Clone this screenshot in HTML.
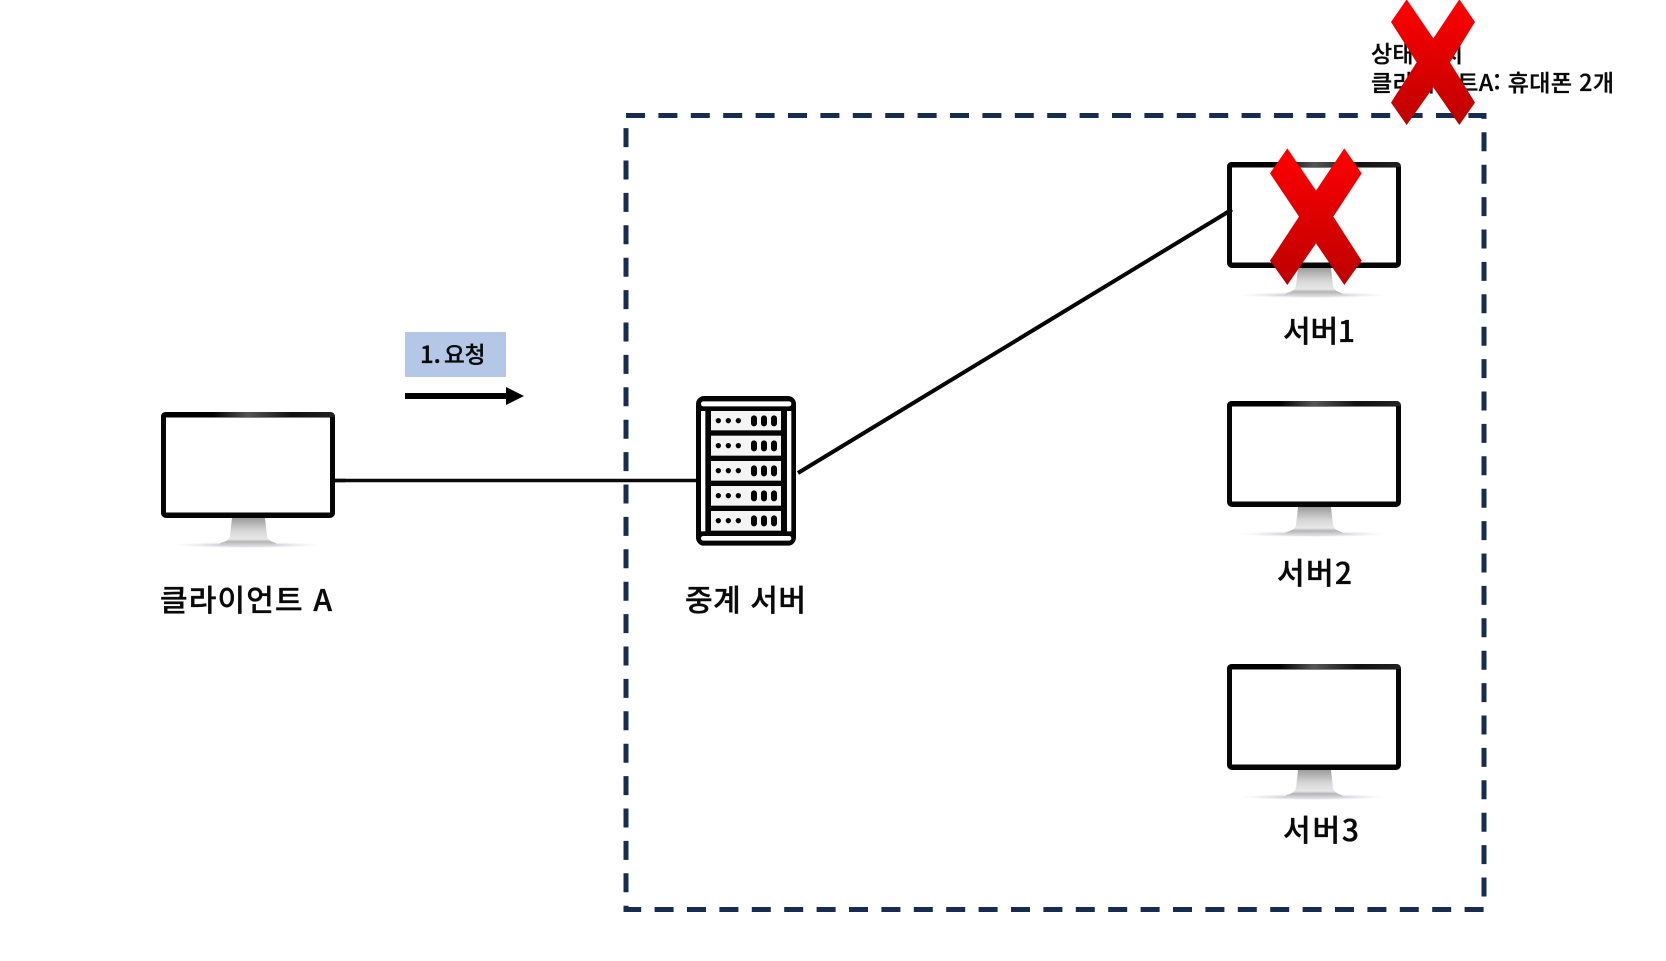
<!DOCTYPE html>
<html lang="ko"><head><meta charset="utf-8"><title>상태 유지 서버</title>
<style>
html,body{margin:0;padding:0;background:#fff;width:1666px;height:961px;overflow:hidden}
svg{display:block}
text{font-family:"Noto Sans CJK KR","Liberation Sans",sans-serif;font-weight:500;fill:#0a0a0a;stroke:#0a0a0a;stroke-width:.35px;white-space:pre}
</style></head><body>
<svg width="1666" height="961" viewBox="0 0 1666 961" xmlns="http://www.w3.org/2000/svg">
<defs>
<linearGradient id="xg" x1="0" y1="0" x2="0" y2="1"><stop offset="0" stop-color="#ff0000"/><stop offset="1" stop-color="#bd0000"/></linearGradient>
<linearGradient id="st" x1="0" y1="0" x2="0" y2="1"><stop offset="0" stop-color="#9c9c9c"/><stop offset=".45" stop-color="#d5d5d5"/><stop offset=".75" stop-color="#e8e8e8"/><stop offset=".85" stop-color="#b5b5b5"/><stop offset="1" stop-color="#dcdcdc"/></linearGradient>
<linearGradient id="gl" x1="0" y1="0" x2="1" y2="0"><stop offset="0" stop-color="#000"/><stop offset=".3" stop-color="#000"/><stop offset=".5" stop-color="#555"/><stop offset=".75" stop-color="#111"/><stop offset="1" stop-color="#222"/></linearGradient>
<radialGradient id="sh"><stop offset="0" stop-color="#8a8aa5" stop-opacity=".85"/><stop offset=".5" stop-color="#aaaabf" stop-opacity=".4"/><stop offset="1" stop-color="#cfcfdd" stop-opacity="0"/></radialGradient>
<g id="mon">
<ellipse cx="86" cy="133" rx="74" ry="3" fill="url(#sh)"/>
<path d="M71 106H104L106 124Q107 129 115 131V134H59V131Q68 129 69 124Z" fill="url(#st)"/>
<rect x="0" y="0" width="174" height="106" rx="5" fill="#060606"/>
<path d="M5 0H169Q174 0 174 5H0Q0 0 5 0Z" fill="url(#gl)"/>
<rect x="5" y="5.5" width="164" height="95" fill="#fff"/>
</g>
</defs>

<rect x="626" y="115.5" width="858" height="794" fill="none" stroke="#172c51" stroke-width="5" stroke-dasharray="19 13.4"/>

<line x1="334" y1="480.5" x2="698" y2="480.5" stroke="#0a0a0a" stroke-width="3.5"/>
<line x1="798" y1="473" x2="1232" y2="209.5" stroke="#050505" stroke-width="4"/>

<use href="#mon" x="161" y="412"/>
<use href="#mon" x="1227" y="162"/>
<use href="#mon" x="1227" y="401"/>
<use href="#mon" x="1227" y="664"/>
<line x1="1225" y1="213.6" x2="1232" y2="209.5" stroke="#050505" stroke-width="4"/>
<line x1="334" y1="480.5" x2="345" y2="480.5" stroke="#0a0a0a" stroke-width="3.5"/>

<!-- server rack -->
<g transform="translate(620,380) scale(.33333)">
<rect x="228" y="48" width="300" height="449" rx="24" fill="#050505"/>
<rect x="243" y="64" width="271" height="15" rx="7" fill="#fff"/>
<rect x="243" y="468" width="271" height="14" rx="7" fill="#fff"/>
<rect x="243" y="93" width="13" height="361" fill="#fff"/>
<rect x="501" y="93" width="13" height="361" fill="#fff"/>
<g fill="#f4f4f4">
<rect x="273" y="93" width="210" height="58"/>
<rect x="273" y="167" width="210" height="60"/>
<rect x="273" y="243" width="210" height="59"/>
<rect x="273" y="318" width="210" height="59"/>
<rect x="273" y="393" width="210" height="59"/>
</g>
<g fill="#050505">
<g id="row"><circle cx="295" cy="122" r="8"/><circle cx="325" cy="122" r="8"/><circle cx="355" cy="122" r="8"/><rect x="393" y="106" width="18" height="33" rx="9"/><rect x="423" y="106" width="18" height="33" rx="9"/><rect x="453" y="106" width="18" height="33" rx="9"/></g>
<use href="#row" y="75"/><use href="#row" y="150"/><use href="#row" y="225"/><use href="#row" y="300"/>
</g>
</g>

<!-- request label and arrow -->
<rect x="405" y="332" width="101" height="45" fill="#b4c7e7"/>
<text x="420" y="363" font-size="24">1.</text>
<text x="444" y="363" font-size="22.5">요청</text>
<rect x="405" y="393" width="102" height="6" fill="#000"/>
<path d="M506 387L524 396L506 405Z" fill="#000"/>

<!-- labels -->
<text x="160" y="611" font-size="30" textLength="172">클라이언트 A</text>
<text x="685" y="611" font-size="30" textLength="121">중계 서버</text>
<text x="1283" y="342" font-size="30" textLength="72">서버1</text>
<text x="1277" y="584" font-size="30" textLength="75">서버2</text>
<text x="1283" y="841" font-size="30" textLength="76">서버3</text>
<text x="1371" y="62" font-size="23" textLength="92">상태 유지</text>
<text x="1371" y="91" font-size="23" textLength="243">클라이언트A: 휴대폰 2개</text>

<!-- red crosses -->
<g transform="translate(1200,0) scale(.33333)" fill="url(#xg)">
<path d="M620-2L700 115L778-2L825 66L750 187L825 308L778 375L700 262L620 375L573 308L650 187L573 66Z"/>
<path d="M262 445L348 572L433 445L485 520L400 650L485 782L433 855L348 730L262 855L210 782L297 650L210 520Z"/>
</g>
</svg>
</body></html>
